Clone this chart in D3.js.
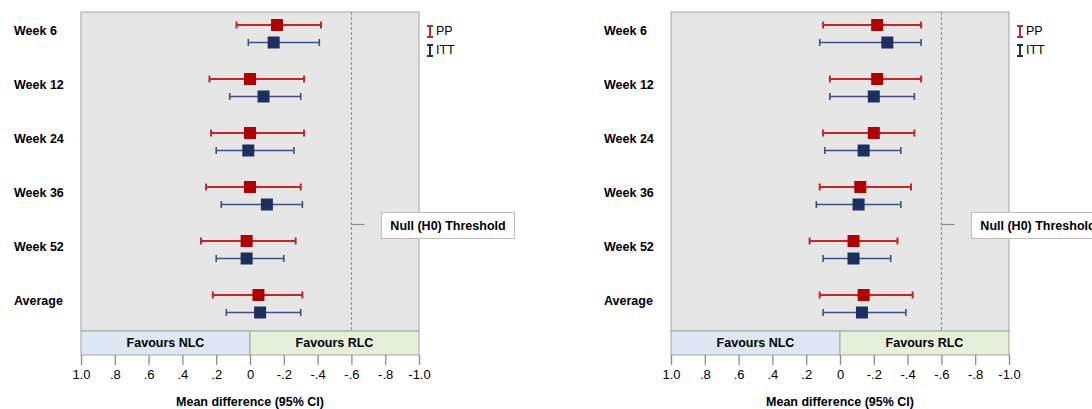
<!DOCTYPE html>
<html>
	<head>
		<meta charset="utf-8">
		<title>Forest plots</title>
		<script src="https://d3js.org/d3.v7.min.js"></script>
		<style type="text/css">
			body { margin: 0; background: #fff; }
			text { font-family: "Liberation Sans", Arial, sans-serif; }
			.cat { font-weight: bold; font-size: 12.5px; }
			.axis text { font-size: 13px; }
		</style>
	</head>
	<body>
		<script type="text/javascript">

			// categories (rows)
			var categories = ['Week 6', 'Week 12', 'Week 24', 'Week 36', 'Week 52', 'Average'];

			// left panel: PP and ITT (mean, lower, upper)
			var leftPPMean  = [-0.16, 0.00, 0.00, 0.00, 0.02, -0.05];
			var leftPPLow   = [0.08, 0.24, 0.23, 0.26, 0.29, 0.22];
			var leftPPHigh  = [-0.42, -0.32, -0.32, -0.30, -0.27, -0.31];
			var leftITTMean = [-0.14, -0.08, 0.01, -0.10, 0.02, -0.06];
			var leftITTLow  = [0.01, 0.12, 0.20, 0.17, 0.20, 0.14];
			var leftITTHigh = [-0.41, -0.30, -0.26, -0.31, -0.20, -0.30];

			// right panel
			var rightPPMean  = [-0.22, -0.22, -0.20, -0.12, -0.08, -0.14];
			var rightPPLow   = [0.10, 0.06, 0.10, 0.12, 0.18, 0.12];
			var rightPPHigh  = [-0.48, -0.48, -0.44, -0.42, -0.34, -0.43];
			var rightITTMean = [-0.28, -0.20, -0.14, -0.11, -0.08, -0.13];
			var rightITTLow  = [0.12, 0.06, 0.09, 0.14, 0.10, 0.10];
			var rightITTHigh = [-0.48, -0.44, -0.36, -0.36, -0.30, -0.39];

			var tickValues = [1.0, 0.8, 0.6, 0.4, 0.2, 0, -0.2, -0.4, -0.6, -0.8, -1.0];
			var tickLabels = ['1.0', '.8', '.6', '.4', '.2', '0', '-.2', '-.4', '-.6', '-.8', '-1.0'];
			var nullThreshold = -0.6;

			var svgWidth = 1092;
			var svgHeight = 409;

			var plotTop = 12, plotBottom = 331, bandBottom = 355;

			var svg = d3.select('body')
				.append('svg')
				.attr('width', svgWidth)
				.attr('height', svgHeight);

			//Escalas
			var xScale = d3.scaleLinear().domain([1, -1]).range([81, 419]);
			var yScale = d3.scalePoint().domain(categories).range([31, 301]);

			var red = '#b00000', redLine = '#c0262b';
			var blue = '#1b2f60', blueLine = '#3e5080';

			function makeRows(mean, low, high) {
				return categories.map(function(c, i) {
					return { cat: c, mean: mean[i], low: low[i], high: high[i] };
				});
			}

			function drawPanel(offsetX, pp, itt) {
				var g = svg.append('g').attr('transform', 'translate(' + offsetX + ',0)');

				// fondo gris
				g.append('rect')
					.attr('x', xScale(1)).attr('y', plotTop)
					.attr('width', xScale(-1) - xScale(1)).attr('height', plotBottom - plotTop)
					.attr('fill', '#e6e6e6').attr('stroke', '#a3a3a3').attr('stroke-width', 1);

				// bandas "Favours"
				g.append('rect')
					.attr('x', xScale(1)).attr('y', plotBottom)
					.attr('width', xScale(0) - xScale(1)).attr('height', bandBottom - plotBottom)
					.attr('fill', '#dfe6f4').attr('stroke', '#a3a3a3');
				g.append('rect')
					.attr('x', xScale(0)).attr('y', plotBottom)
					.attr('width', xScale(-1) - xScale(0)).attr('height', bandBottom - plotBottom)
					.attr('fill', '#e5f0da').attr('stroke', '#a3a3a3');
				g.append('text').attr('class', 'cat')
					.attr('x', (xScale(1) + xScale(0)) / 2).attr('y', plotBottom + 12).attr('dy', '0.35em')
					.attr('text-anchor', 'middle').text('Favours NLC');
				g.append('text').attr('class', 'cat')
					.attr('x', (xScale(0) + xScale(-1)) / 2).attr('y', plotBottom + 12).attr('dy', '0.35em')
					.attr('text-anchor', 'middle').text('Favours RLC');

				// linea del umbral
				g.append('line')
					.attr('x1', xScale(nullThreshold)).attr('x2', xScale(nullThreshold))
					.attr('y1', plotTop).attr('y2', plotBottom)
					.attr('stroke', '#8a8a8a').attr('stroke-dasharray', '3,2');
				g.append('line')
					.attr('x1', xScale(nullThreshold)).attr('x2', xScale(nullThreshold) + 13)
					.attr('y1', 224.5).attr('y2', 224.5)
					.attr('stroke', '#8a8a8a').attr('stroke-width', 1.2);
				g.append('rect')
					.attr('x', 381.5).attr('y', 212.5).attr('width', 133).attr('height', 26)
					.attr('fill', '#fff').attr('stroke', '#bfbfbf');
				g.append('text').attr('class', 'cat')
					.attr('x', 448).attr('y', 225.5).attr('dy', '0.35em')
					.attr('text-anchor', 'middle').text('Null (H0) Threshold');

				// etiquetas de fila
				g.selectAll('text.rowlab')
					.data(categories).enter()
					.append('text').attr('class', 'cat rowlab')
					.attr('x', 14).attr('y', function(d) { return yScale(d); }).attr('dy', '0.35em')
					.text(function(d) { return d; });

				// eje X
				var xAxis = d3.axisBottom(xScale)
					.tickValues(tickValues)
					.tickSize(10)
					.tickPadding(5)
					.tickFormat(function(d, i) { return tickLabels[i]; });
				var ax = g.append('g').attr('class', 'axis')
					.attr('transform', 'translate(0,' + bandBottom + ')')
					.call(xAxis);
				ax.select('.domain').remove();
				ax.selectAll('line').attr('stroke', '#8c8c8c').attr('stroke-width', 1.3);
				ax.selectAll('text').attr('fill', '#000');

				g.append('text').attr('class', 'cat')
					.attr('x', xScale(0)).attr('y', 402).attr('dy', '0.35em')
					.attr('text-anchor', 'middle').text('Mean difference (95% CI)');

				// series
				drawSeries(g, pp, -6, redLine, red, 2, 12);
				drawSeries(g, itt, 11.5, blueLine, blue, 1.6, 12);

				// leyenda
				var leg = [['PP', redLine, 31], ['ITT', blue, 50]];
				leg.forEach(function(l) {
					var lg = g.append('g');
					lg.append('path')
						.attr('d', 'M427,' + (l[2] - 5) + 'h6M430,' + (l[2] - 5) + 'v11M427,' + (l[2] + 6) + 'h6')
						.attr('stroke', l[1]).attr('stroke-width', 2).attr('fill', 'none');
					lg.append('text').attr('x', 436).attr('y', l[2]).attr('dy', '0.35em')
						.attr('font-size', '12.5px').text(l[0]);
				});
			}

			function drawSeries(g, rows, dy, lineColor, fillColor, sw, size) {
				var s = g.append('g');
				var row = s.selectAll('g').data(rows).enter().append('g')
					.attr('transform', function(d) { return 'translate(0,' + (yScale(d.cat) + dy) + ')'; });
				row.append('line')
					.attr('x1', function(d) { return xScale(d.low); })
					.attr('x2', function(d) { return xScale(d.high); })
					.attr('stroke', lineColor).attr('stroke-width', sw);
				row.append('line')
					.attr('x1', function(d) { return xScale(d.low); })
					.attr('x2', function(d) { return xScale(d.low); })
					.attr('y1', -3.5).attr('y2', 3.5)
					.attr('stroke', lineColor).attr('stroke-width', sw);
				row.append('line')
					.attr('x1', function(d) { return xScale(d.high); })
					.attr('x2', function(d) { return xScale(d.high); })
					.attr('y1', -3.5).attr('y2', 3.5)
					.attr('stroke', lineColor).attr('stroke-width', sw);
				row.append('rect')
					.attr('x', function(d) { return xScale(d.mean) - size / 2; })
					.attr('y', -size / 2)
					.attr('width', size).attr('height', size)
					.attr('fill', fillColor);
			}

			drawPanel(0, makeRows(leftPPMean, leftPPLow, leftPPHigh), makeRows(leftITTMean, leftITTLow, leftITTHigh));
			drawPanel(590, makeRows(rightPPMean, rightPPLow, rightPPHigh), makeRows(rightITTMean, rightITTLow, rightITTHigh));

		</script>
	</body>
</html>
